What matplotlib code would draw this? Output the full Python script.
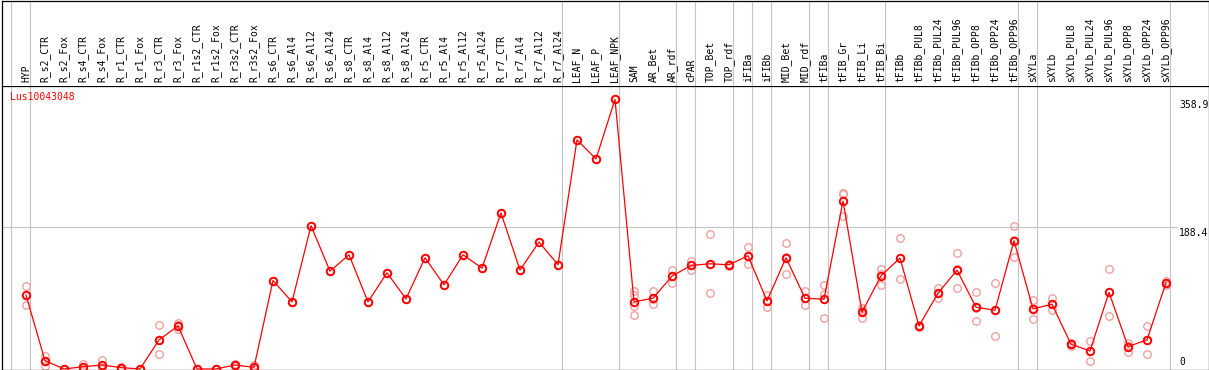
import matplotlib
matplotlib.use("Agg")
import matplotlib.pyplot as plt
import matplotlib.transforms as mtransforms

# sample names, in plotting order
samples = ["HYP", "R_s2_CTR", "R_s2_Fox", "R_s4_CTR", "R_s4_Fox", "R_r1_CTR", "R_r1_Fox",
           "R_r3_CTR", "R_r3_Fox", "R_r1s2_CTR", "R_r1s2_Fox", "R_r3s2_CTR", "R_r3s2_Fox",
           "R_s6_CTR", "R_s6_Al4", "R_s6_Al12", "R_s6_Al24", "R_s8_CTR", "R_s8_Al4",
           "R_s8_Al12", "R_s8_Al24", "R_r5_CTR", "R_r5_Al4", "R_r5_Al12", "R_r5_Al24",
           "R_r7_CTR", "R_r7_Al4", "R_r7_Al12", "R_r7_Al24", "LEAF_N", "LEAF_P", "LEAF_NPK",
           "SAM", "AR_Bet", "AR_rdf", "cPAR", "TOP_Bet", "TOP_rdf", "iFIBa", "iFIBb",
           "MID_Bet", "MID_rdf", "tFIBa", "tFIB_Gr", "tFIB_Li", "tFIB_Bi", "tFIBb",
           "tFIBb_PUL8", "tFIBb_PUL24", "tFIBb_PUL96", "tFIBb_OPP8", "tFIBb_OPP24",
           "tFIBb_OPP96", "sXYLa", "sXYLb", "sXYLb_PUL8", "sXYLb_PUL24", "sXYLb_PUL96",
           "sXYLb_OPP8", "sXYLb_OPP24", "sXYLb_OPP96"]

# mean expression per sample
means = [98.5, 11, 0, 3, 5.3, 1.8, 0, 38.7, 57.3, 0, 0, 5.3, 2.2,
         117.7, 89.3, 190.7, 130.2, 152, 89.3, 128, 93.3, 148, 112, 152, 134.2,
         207.6, 131.6, 169, 138.7, 305, 279.6, 358.9,
         89.3, 94.2, 123.6, 137.8, 140, 138.7, 150.7, 90.7, 148, 94.2,
         92.9, 223.6, 75.6, 124, 147.6, 57.3, 100.9, 131.6, 82.2, 78.2,
         170.7, 80, 86.2, 32.9, 24, 102, 29.8, 38.7, 115]

# individual replicates per sample
reps = [[111, 99, 85], [17, 11, 4], [0, 0, 0], [6, 3, 0], [12, 4, 0], [3, 2, 0], [0, 0, 0],
        [59, 38, 20], [61, 58, 53], [0, 0, 0], [0, 0, 0], [7, 5, 4], [5, 2, 0],
        [117.7], [89.3], [190.7], [130.2], [152], [89.3], [128], [93.3], [148], [112],
        [152], [134.2], [207.6], [131.6], [169], [138.7], [305], [279.6], [358.9],
        [104, 99, 84, 72], [104, 93, 86], [132, 124, 115], [144, 138, 132],
        [179, 140, 101], [140, 139, 137], [163, 150, 140], [99, 91, 83],
        [168, 149, 127], [104, 94, 85], [112, 100, 68], [234, 233, 203],
        [81, 78, 68], [133, 127, 112], [174, 148, 120], [59, 57, 56],
        [108, 101, 94], [154, 133, 108], [102, 81, 64], [114, 78, 44],
        [190, 172, 149], [92, 81, 67], [94, 86, 78], [35, 33, 31], [37, 24, 11],
        [133, 102, 70], [34, 31, 23], [57, 39, 20], [117, 115, 112]]

# group boundaries (index of last sample in each group)
group_ends = [-1, 0, 28, 31, 34, 35, 37, 38, 39, 41, 42, 45, 52, 53, 60]

gene = "Lus10043048"
y_marks = [358.9, 188.4]

W, H = 1209, 370
fig = plt.figure(figsize=(W / 100, H / 100), dpi=100)
font = dict(family="DejaVu Sans Mono", size=7)

x = list(range(len(samples)))
xlim = ((1.5 - 26) / 19, (1208.5 - 26) / 19)

ax = fig.add_axes([1.5 / W, 0.5 / H, 1207 / W, 284 / H])
hd = fig.add_axes([1.5 / W, 284.5 / H, 1207 / W, 85 / H])

for a in (ax, hd):
    a.set_xlim(*xlim)
    a.set_xticks([])
    a.set_yticks([])
    for s in a.spines.values():
        s.set_color("black")
        s.set_linewidth(0.9)
    for g in group_ends:
        a.axvline(g + 0.21, color="#c4c4c4", lw=0.8, zorder=0)
hd.spines["bottom"].set_visible(False)
hd.set_ylim(0, 1)

ax.set_ylim(-0.7, 377.3)
ax.axhline(188.4, xmin=0, xmax=0.974, color="#c4c4c4", lw=0.8, zorder=0)

# replicate points
for i, r in enumerate(reps):
    ax.plot([i] * len(r), r, linestyle="none", marker="o", ms=5.4,
            mfc="none", mec="#f0a0a0", mew=1.0, zorder=2)

# mean line and points
ax.plot(x, means, color="red", lw=0.9, zorder=3)
ax.plot(x, means, linestyle="none", marker="o", ms=5.4, mfc="none",
        mec="red", mew=1.4, zorder=4)

# sample labels in the header
tr = mtransforms.blended_transform_factory(hd.transData, hd.transAxes)
for i, name in enumerate(samples):
    hd.text(i, 0.04, name, transform=tr, rotation=90, ha="center", va="bottom",
            color="black", **font)

# gene name and value marks
ax.text(0.007, 0.978, gene, transform=ax.transAxes, ha="left", va="top",
        color="red", **font)
ty = mtransforms.blended_transform_factory(ax.transAxes, ax.transData)
for v in y_marks:
    ax.text(0.9755, v - 1, f"{v}", transform=ty, ha="left", va="top", **font)
ax.text(0.9755, 3, "0", transform=ty, ha="left", va="bottom", **font)

fig.savefig("out.png", dpi=100)
